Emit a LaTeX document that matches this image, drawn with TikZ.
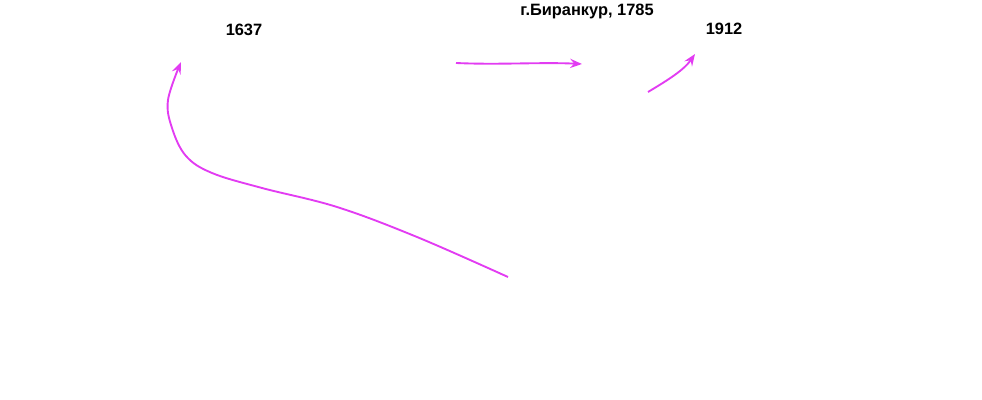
\documentclass[tikz,border=0pt]{standalone}
\usepackage{fontspec}
\setmainfont{Liberation Sans}
\usetikzlibrary{arrows.meta}
\definecolor{ArMag}{HTML}{E23CF2}
\tikzset{
  fecha/.style={font=\fontsize{14pt}{16pt}\selectfont\bfseries, inner sep=1pt},
  trazo/.style={line width=1.6pt, color=ArMag, -{Stealth[length=3.6mm, width=2.8mm, inset=1.3mm]}},
}

\begin{document}
\begin{tikzpicture}[x=0.03cm, y=-0.03cm]
    \useasboundingbox (0,0) rectangle (982,400);
    \node[fecha] (f1637) at (244,30) {1637};
    \node[fecha] (bir) at (587,11) {г.Биранкур, 1785};
    \node[fecha] (f1912) at (724,29) {1912};
    \coordinate (c1) at (508,277); \coordinate (c1t) at (181,62);
    \coordinate (c2) at (456,63);  \coordinate (c2t) at (582,64);
    \coordinate (c3) at (648,92);  \coordinate (c3t) at (695,54);
    \draw[trazo] plot[smooth, tension=0.6] coordinates {(c1) (417,237) (337,207) (262,188) (212,173) (186,156) (172,128) (168,100) (c1t)};
    \draw[trazo] (c2) .. controls (500,65) and (540,62) .. (c2t);
    \draw[trazo] (c3) .. controls (668,80) and (684,70) .. (c3t);
  \end{tikzpicture}
\end{document}
